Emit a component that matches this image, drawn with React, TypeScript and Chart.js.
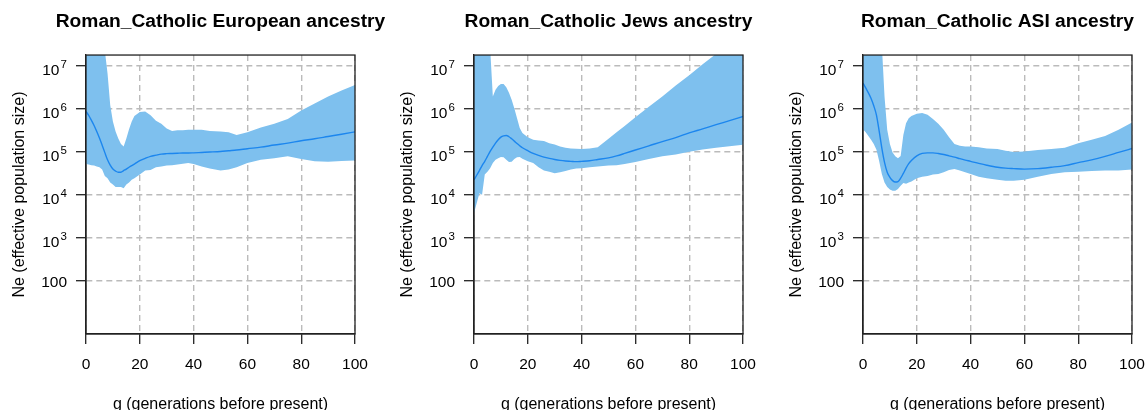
import React, { useEffect, useRef } from 'react';
import { Chart, registerables } from 'chart.js';

Chart.register(...registerables);

// ---------- data ----------
const generations = [0, 1, 2, 3, 4, 5, 6, 7, 8, 9, 10, 11, 12, 13, 14, 15, 16, 17, 18, 20, 22, 24, 26, 28, 30, 32, 34, 36, 38, 40, 43, 46, 50, 53, 56, 60, 65, 70, 75, 80, 85, 90, 95, 100];

const europeanMean = [8.5e5, 6.9e5, 5.3e5, 4.0e5, 2.9e5, 2.05e5, 1.4e5, 9.4e4, 6.4e4, 4.8e4, 3.9e4, 3.5e4, 3.3e4, 3.3e4, 3.6e4, 3.9e4, 4.3e4, 4.7e4, 5.1e4, 6.1e4, 6.9e4, 7.7e4, 8.2e4, 8.7e4, 8.9e4, 9.0e4, 9.1e4, 9.2e4, 9.2e4, 9.3e4, 9.5e4, 9.7e4, 1.0e5, 1.04e5, 1.08e5, 1.16e5, 1.26e5, 1.41e5, 1.56e5, 1.77e5, 1.97e5, 2.23e5, 2.52e5, 2.86e5];
const europeanUpper = [5e7, 5e7, 5e7, 5e7, 5e7, 5e7, 5e7, 2.2e7, 6.6e6, 1.2e6, 5.0e5, 2.9e5, 2.0e5, 1.5e5, 1.3e5, 2.0e5, 3.3e5, 5.0e5, 6.7e5, 8.3e5, 8.5e5, 6.9e5, 5.2e5, 4.4e5, 3.4e5, 3.0e5, 3.1e5, 3.1e5, 3.2e5, 3.2e5, 3.2e5, 3.0e5, 2.9e5, 2.8e5, 2.4e5, 2.8e5, 3.6e5, 4.4e5, 5.7e5, 9.0e5, 1.3e6, 1.9e6, 2.6e6, 3.5e6];
const europeanLower = [5.1e4, 5.0e4, 4.8e4, 4.7e4, 4.5e4, 4.3e4, 3.8e4, 2.7e4, 2.4e4, 1.9e4, 1.7e4, 1.5e4, 1.5e4, 1.5e4, 1.4e4, 1.7e4, 1.9e4, 2.2e4, 2.4e4, 2.9e4, 3.6e4, 3.7e4, 4.3e4, 4.5e4, 4.7e4, 4.8e4, 5.0e4, 5.2e4, 5.4e4, 5.1e4, 4.5e4, 4.0e4, 3.6e4, 3.8e4, 4.3e4, 5.4e4, 6.4e4, 7.0e4, 7.7e4, 6.7e4, 5.9e4, 5.8e4, 6.0e4, 6.2e4];

const jewsMean = [2.2e4, 2.8e4, 3.6e4, 4.7e4, 5.9e4, 7.7e4, 1.0e5, 1.26e5, 1.56e5, 1.87e5, 2.15e5, 2.3e5, 2.35e5, 2.2e5, 1.97e5, 1.74e5, 1.53e5, 1.36e5, 1.22e5, 1.04e5, 9.0e4, 8.1e4, 7.4e4, 6.9e4, 6.5e4, 6.2e4, 6.0e4, 5.9e4, 5.8e4, 5.9e4, 6.1e4, 6.5e4, 7.1e4, 7.9e4, 9.0e4, 1.08e5, 1.35e5, 1.7e5, 2.1e5, 2.7e5, 3.35e5, 4.2e5, 5.2e5, 6.5e5];
const jewsUpper = [5e7, 5e7, 5e7, 5e7, 5e7, 5e7, 2.5e7, 1.9e6, 2.7e6, 3.3e6, 3.7e6, 3.7e6, 3.1e6, 2.3e6, 1.6e6, 1.0e6, 5.9e5, 3.5e5, 2.7e5, 2.15e5, 1.87e5, 1.8e5, 1.74e5, 1.56e5, 1.46e5, 1.31e5, 1.22e5, 1.17e5, 1.16e5, 1.14e5, 1.17e5, 1.26e5, 1.97e5, 2.8e5, 3.9e5, 6.2e5, 1.09e6, 1.9e6, 3.4e6, 5.9e6, 1.06e7, 1.85e7, 3.3e7, 5.8e7];
const jewsLower = [3.7e3, 6.3e3, 1.07e4, 9.9e3, 2.9e4, 3.4e4, 4.1e4, 5.4e4, 6.4e4, 7.0e4, 7.4e4, 7.3e4, 6.4e4, 5.7e4, 5.8e4, 6.7e4, 7.3e4, 7.4e4, 6.8e4, 5.9e4, 5.4e4, 4.3e4, 3.6e4, 3.4e4, 3.1e4, 3.3e4, 3.5e4, 3.8e4, 4.0e4, 4.1e4, 4.3e4, 4.5e4, 4.7e4, 4.8e4, 5.1e4, 5.7e4, 6.7e4, 7.7e4, 8.5e4, 9.8e4, 1.11e5, 1.22e5, 1.33e5, 1.43e5];

const asiMean = [3.9e6, 3.0e6, 2.3e6, 1.7e6, 1.15e6, 7.0e5, 3.0e5, 1.2e5, 5.6e4, 3.3e4, 2.5e4, 2.1e4, 1.95e4, 2.0e4, 2.4e4, 3.1e4, 4.1e4, 5.2e4, 6.2e4, 7.9e4, 9.0e4, 9.3e4, 9.3e4, 9.0e4, 8.5e4, 7.9e4, 7.4e4, 6.8e4, 6.3e4, 5.9e4, 5.3e4, 4.8e4, 4.3e4, 4.1e4, 4.0e4, 3.9e4, 4.0e4, 4.3e4, 4.7e4, 5.5e4, 6.4e4, 7.7e4, 9.5e4, 1.17e5];
const asiUpper = [5e7, 5e7, 5e7, 5e7, 5e7, 5e7, 5e7, 3e7, 1.9e6, 3.2e5, 1.5e5, 9.5e4, 7.7e4, 7.0e4, 7.9e4, 2.4e5, 4.5e5, 5.9e5, 6.7e5, 7.5e5, 7.8e5, 7.1e5, 5.7e5, 4.4e5, 3.2e5, 2.15e5, 1.5e5, 1.36e5, 1.31e5, 1.31e5, 1.26e5, 1.17e5, 1.14e5, 1.04e5, 9.7e4, 1.0e5, 1.08e5, 1.14e5, 1.22e5, 1.56e5, 1.87e5, 2.3e5, 3.2e5, 4.7e5];
const asiLower = [3.3e5, 2.8e5, 2.3e5, 1.87e5, 1.5e5, 1.1e5, 6.0e4, 3.0e4, 1.9e4, 1.5e4, 1.3e4, 1.22e4, 1.22e4, 1.34e4, 1.6e4, 1.85e4, 1.78e4, 1.9e4, 2.0e4, 2.4e4, 2.6e4, 2.7e4, 2.9e4, 3.0e4, 3.3e4, 3.7e4, 3.9e4, 3.6e4, 3.3e4, 3.0e4, 2.6e4, 2.4e4, 2.2e4, 2.1e4, 2.1e4, 2.2e4, 2.6e4, 3.0e4, 3.3e4, 3.4e4, 3.5e4, 3.6e4, 3.6e4, 3.8e4];

const yTickValues = [100, 1e3, 1e4, 1e5, 1e6, 1e7];
const yTickBases = ['100', '10', '10', '10', '10', '10'];
const yTickExponents = ['', '3', '4', '5', '6', '7'];
const xStep = 20;
const xMin = 0;
const xMax = 100;
const yMin = Math.pow(10, 0.76);
const yMax = Math.pow(10, 7.24);

const panelTitles = ['Roman_Catholic European ancestry', 'Roman_Catholic Jews ancestry', 'Roman_Catholic ASI ancestry'];
const xAxisTitle = 'g (generations before present)';
const yAxisTitle = 'Ne (effective population size)';

// ---------- styles ----------
const FONT = "'Liberation Sans', Arial, Helvetica, sans-serif";
const BAND = '#7EC0EE';
const LINE = '#1C86EE';
const GRID = '#BBBBBB';
const AXIS = '#222222';
const CANVAS_W = 441;
const CANVAS_H = 430;
const LEFT_AXIS_W = 86;
const RIGHT_SPACE = 86;
const panelLefts = [0, 388, 777];

const boxPlugin = {
  id: 'plotBox',
  afterDraw(chart: any) {
    const { ctx, chartArea: a } = chart;
    ctx.save();
    ctx.strokeStyle = AXIS;
    ctx.lineWidth = 1.3;
    ctx.strokeRect(a.left, a.top, a.right - a.left, a.bottom - a.top);
    ctx.restore();
  },
};

// y tick labels written as 10 with a raised exponent, placed by the y scale
const powerLabelPlugin = {
  id: 'powerLabels',
  afterDraw(chart: any) {
    const { ctx } = chart;
    const scale = chart.scales.y;
    const xRight = chart.chartArea.left - 19;
    ctx.save();
    ctx.fillStyle = '#000';
    ctx.textAlign = 'right';
    ctx.textBaseline = 'alphabetic';
    yTickValues.forEach((v, i) => {
      const y = scale.getPixelForValue(v);
      const exp = yTickExponents[i];
      if (!exp) {
        ctx.font = `15.5px ${FONT}`;
        ctx.fillText(yTickBases[i], xRight, y + 6);
      } else {
        ctx.font = `11.5px ${FONT}`;
        const w = ctx.measureText(exp).width;
        ctx.fillText(exp, xRight, y + 2.6);
        ctx.font = `15.5px ${FONT}`;
        ctx.fillText(yTickBases[i], xRight - w - 1.2, y + 9.3);
      }
    });
    ctx.restore();
  },
};

function Panel(props: { title: string; mean: number[]; lower: number[]; upper: number[]; left: number }) {
  const ref = useRef<HTMLCanvasElement | null>(null);
  useEffect(() => {
    if (!ref.current) return;
    const pts = (arr: number[]) => generations.map((g, i) => ({ x: g, y: arr[i] }));
    const chart = new Chart(ref.current, {
      type: 'line',
      data: {
        datasets: [
          {
            label: 'mean',
            data: pts(props.mean),
            borderColor: LINE,
            borderWidth: 1.4,
            pointRadius: 0,
            fill: false,
            cubicInterpolationMode: 'monotone',
            tension: 0.4,
          },
          {
            label: 'upper',
            data: pts(props.upper),
            borderColor: 'rgba(0,0,0,0)',
            borderWidth: 0,
            backgroundColor: BAND,
            pointRadius: 0,
            fill: 2,
            tension: 0,
          },
          {
            label: 'lower',
            data: pts(props.lower),
            borderColor: 'rgba(0,0,0,0)',
            borderWidth: 0,
            pointRadius: 0,
            fill: false,
            tension: 0,
          },
        ],
      } as any,
      options: {
        animation: false,
        responsive: false,
        devicePixelRatio: 1,
        events: [],
        layout: { padding: 0 },
        plugins: {
          legend: { display: false },
          tooltip: { enabled: false },
          title: {
            display: true,
            text: props.title,
            color: '#000',
            font: { family: FONT, size: 19.2, weight: 'bold', lineHeight: 1.2 },
            padding: { top: 9.8, bottom: 22.2 },
          },
        },
        scales: {
          x: {
            type: 'linear',
            min: xMin,
            max: xMax,
            bounds: 'data',
            ticks: {
              stepSize: xStep,
              color: '#000',
              font: { family: FONT, size: 15.5 },
              padding: 11,
              maxRotation: 0,
              autoSkip: false,
            },
            grid: { color: GRID, lineWidth: 1.4, tickLength: 10, tickColor: AXIS, tickWidth: 1.3 },
            border: { color: AXIS, width: 1.3, dash: [6, 4] },
            title: {
              display: true,
              text: xAxisTitle,
              color: '#000',
              font: { family: FONT, size: 16, lineHeight: 1.2 },
              padding: { top: 0, bottom: 16 },
            },
            afterFit: (s: any) => {
              s.height = CANVAS_H - 334;
            },
          },
          y: {
            type: 'logarithmic',
            min: yMin,
            max: yMax,
            bounds: 'data',
            afterBuildTicks: (s: any) => {
              s.ticks = yTickValues.map((v) => ({ value: v }));
            },
            ticks: { display: false },
            grid: { color: GRID, lineWidth: 1.4, tickLength: 10, tickColor: AXIS, tickWidth: 1.3 },
            border: { color: AXIS, width: 1.3, dash: [6, 4] },
            title: {
              display: true,
              text: yAxisTitle,
              color: '#000',
              font: { family: FONT, size: 16, lineHeight: 1.2 },
              padding: { top: 9.9, bottom: 0 },
            },
            afterFit: (s: any) => {
              s.width = LEFT_AXIS_W;
            },
          },
          yRightSpace: {
            type: 'linear',
            position: 'right',
            display: true,
            ticks: { display: false },
            grid: { display: false, drawOnChartArea: false, drawTicks: false },
            border: { display: false },
            afterFit: (s: any) => {
              s.width = RIGHT_SPACE;
            },
          },
        },
      } as any,
      plugins: [boxPlugin, powerLabelPlugin],
    });
    return () => chart.destroy();
  }, []);
  return (
    <canvas
      ref={ref}
      width={CANVAS_W}
      height={CANVAS_H}
      style={{ position: 'absolute', left: props.left, top: 0, width: CANVAS_W, height: CANVAS_H }}
    />
  );
}

export default function App() {
  const series = [
    { mean: europeanMean, lower: europeanLower, upper: europeanUpper },
    { mean: jewsMean, lower: jewsLower, upper: jewsUpper },
    { mean: asiMean, lower: asiLower, upper: asiUpper },
  ];
  return (
    <div style={{ position: 'absolute', left: 0, top: 0, width: 1146, height: 410, overflow: 'hidden', background: '#fff' }}>
      {series.map((s, i) => (
        <Panel key={i} title={panelTitles[i]} mean={s.mean} lower={s.lower} upper={s.upper} left={panelLefts[i]} />
      ))}
    </div>
  );
}
